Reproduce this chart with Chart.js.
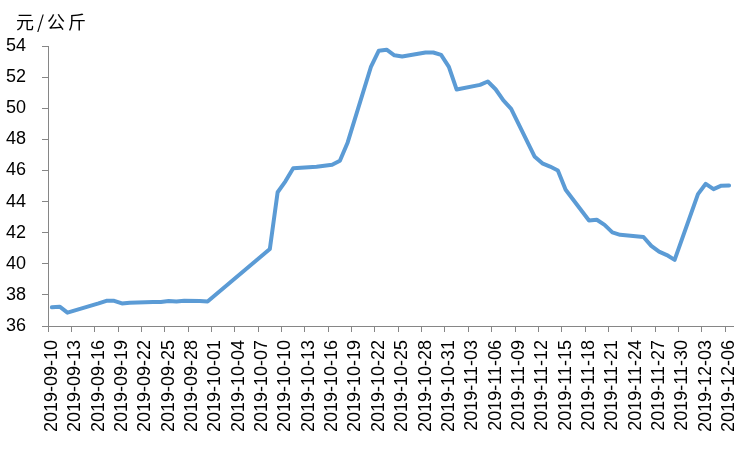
<!DOCTYPE html>
<html>
<head>
<meta charset="utf-8">
<script src="https://cdn.jsdelivr.net/npm/chart.js@4/dist/chart.umd.min.js"></script>
<style>
  html, body { margin: 0; padding: 0; background: #fff; }
  #wrap { width: 751px; height: 451px; }
</style>
</head>
<body>
<div id="wrap"><canvas id="js-canvas-price"></canvas></div>
<script>
const dates = [
  '2019-09-10', '2019-09-11', '2019-09-12', '2019-09-16', '2019-09-17', '2019-09-18',
  '2019-09-19', '2019-09-20', '2019-09-23', '2019-09-24', '2019-09-25', '2019-09-26',
  '2019-09-27', '2019-09-29', '2019-09-30', '2019-10-08', '2019-10-09', '2019-10-10',
  '2019-10-11', '2019-10-12', '2019-10-14', '2019-10-15', '2019-10-16', '2019-10-17',
  '2019-10-18', '2019-10-21', '2019-10-22', '2019-10-23', '2019-10-24', '2019-10-25',
  '2019-10-28', '2019-10-29', '2019-10-30', '2019-10-31', '2019-11-01', '2019-11-04',
  '2019-11-05', '2019-11-06', '2019-11-07', '2019-11-08', '2019-11-11', '2019-11-12',
  '2019-11-13', '2019-11-14', '2019-11-15', '2019-11-18', '2019-11-19', '2019-11-20',
  '2019-11-21', '2019-11-22', '2019-11-25', '2019-11-26', '2019-11-27', '2019-11-28',
  '2019-11-29', '2019-12-02', '2019-12-03', '2019-12-04', '2019-12-05', '2019-12-06'
];

const prices = [
  37.20, 37.24, 36.86, 37.45, 37.62, 37.62,
  37.45, 37.50, 37.54, 37.55, 37.60, 37.57,
  37.62, 37.60, 37.58, 40.95, 44.60, 45.30,
  46.14, 46.18, 46.24, 46.30, 46.36, 46.62,
  47.80, 52.68, 53.70, 53.76, 53.40, 53.33,
  53.58, 53.58, 53.43, 52.66, 51.20, 51.50,
  51.72, 51.22, 50.50, 49.96, 46.90, 46.46,
  46.25, 46.00, 44.76, 42.78, 42.83, 42.50,
  42.02, 41.86, 41.72, 41.15, 40.78, 40.56,
  40.25, 44.48, 45.14, 44.80, 45.02, 45.03
];

const tickLabels = [
  '2019-09-10', '2019-09-13', '2019-09-16', '2019-09-19', '2019-09-22', '2019-09-25',
  '2019-09-28', '2019-10-01', '2019-10-04', '2019-10-07', '2019-10-10', '2019-10-13',
  '2019-10-16', '2019-10-19', '2019-10-22', '2019-10-25', '2019-10-28', '2019-10-31',
  '2019-11-03', '2019-11-06', '2019-11-09', '2019-11-12', '2019-11-15', '2019-11-18',
  '2019-11-21', '2019-11-24', '2019-11-27', '2019-11-30', '2019-12-03', '2019-12-06'
];

const unitLabel = '元/公斤';

// days since first date; each day is one slot on the axis, points sit in the slot middle
const dayOf = s => (Date.parse(s) - Date.parse(dates[0])) / 86400000;

const axisGray = '#868686';
const font = { family: '"Liberation Sans", Arial, sans-serif', size: 18 };

const unitPlugin = {
  id: 'unit',
  afterDraw(chart) {
    const c = chart.ctx;
    c.save();
    c.font = '18px "Noto Sans CJK SC", sans-serif';
    c.fillStyle = '#000';
    c.textBaseline = 'middle';
    if ('letterSpacing' in c) c.letterSpacing = '3px';
    c.fillText(unitLabel, 16, 22);
    c.restore();
  }
};

new Chart(document.getElementById('js-canvas-price'), {
  type: 'line',
  data: {
    datasets: [{
      data: dates.map((d, i) => ({ x: dayOf(d) + 0.5, y: prices[i] })),
      borderColor: '#5B9BD5',
      borderWidth: 4,
      pointRadius: 0,
      tension: 0,
      borderJoinStyle: 'round',
      borderCapStyle: 'round',
      fill: false
    }]
  },
  options: {
    responsive: true,
    maintainAspectRatio: false,
    animation: false,
    layout: { padding: { top: 46, right: 18, left: 0, bottom: 0 } },
    plugins: { legend: { display: false }, tooltip: { enabled: false } },
    scales: {
      x: {
        type: 'linear',
        min: 0,
        max: 88,
        afterBuildTicks(scale) {
          scale.ticks = tickLabels.map(t => ({ value: dayOf(t) }));
        },
        afterFit(scale) {
          scale.height = 125;
          scale.paddingLeft = 0;
          scale.paddingRight = 0;
        },
        border: { color: axisGray, width: 1 },
        grid: { drawOnChartArea: false, drawTicks: true, tickLength: 6, color: axisGray },
        ticks: {
          autoSkip: false,
          minRotation: 90,
          maxRotation: 90,
          padding: 8,
          labelOffset: 3.9,
          color: '#000',
          font,
          callback: (v, i) => tickLabels[i]
        }
      },
      y: {
        min: 36,
        max: 54,
        afterFit(scale) { scale.width = 48; },
        border: { color: axisGray, width: 1 },
        grid: { drawOnChartArea: false, drawTicks: true, tickLength: 6, color: axisGray },
        ticks: { stepSize: 2, padding: 16, color: '#000', font }
      }
    }
  },
  plugins: [unitPlugin]
});
</script>
</body>
</html>
